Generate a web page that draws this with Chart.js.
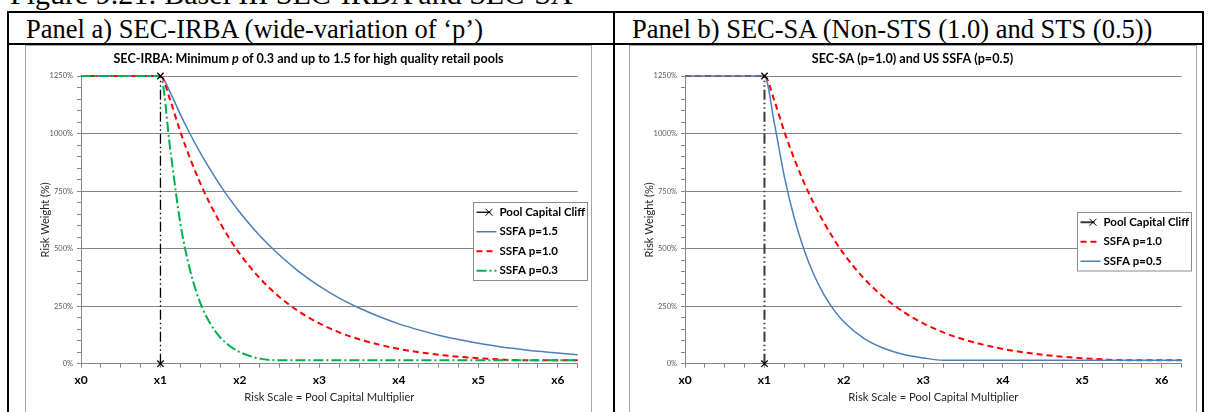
<!DOCTYPE html>
<html>
<head>
<meta charset="utf-8">
<script src="https://cdn.jsdelivr.net/npm/chart.js@4.4.1/dist/chart.umd.min.js"></script>
<style>
  html, body { margin: 0; padding: 0; background: #fff; }
  body { width: 1209px; height: 412px; position: relative; overflow: hidden; }
  .serif { position: absolute; font-family: "Liberation Serif", "Times New Roman", serif; white-space: nowrap; color: #000; }
  #figTitle { left: 10px; top: -21px; font-size: 30px; line-height: 30px; }
  .head { top: 16px; font-size: 26.5px; line-height: 26.5px; }
  .rule { position: absolute; background: #000; }
  .box { position: absolute; border: 1px solid #a6a6a6; box-sizing: border-box; top: 45px; height: 380px; }
  canvas { position: absolute; top: 46px; }
</style>
</head>
<body>
<div id="figTitle" class="serif">Figure 9.21: Basel III SEC-IRBA and SEC-SA</div>
<div class="rule" style="left:7px; top:11px; width:1197px; height:2px"></div>
<div class="rule" style="left:7px; top:43px; width:1197px; height:2px"></div>
<div class="rule" style="left:7px; top:11px; width:2px; height:410px"></div>
<div class="rule" style="left:613px; top:11px; width:2px; height:410px"></div>
<div class="rule" style="left:1202px; top:11px; width:2px; height:410px"></div>
<div class="serif head" style="left:26px">Panel a) SEC-IRBA (wide-variation of ‘p’)</div>
<div class="serif head" style="left:632px">Panel b) SEC-SA (Non-STS (1.0) and STS (0.5))</div>
<div class="box" style="left:25px; width:567px"></div>
<div class="box" style="left:629px; width:568px"></div>
<canvas id="chartA" width="565" height="370" style="left:26px"></canvas>
<canvas id="chartB" width="565" height="370" style="left:630px"></canvas>

<script>
// risk scale (multiples of pool capital) and risk weights in %
const riskScale = [0, 1, 1.125, 1.25, 1.375, 1.5, 1.625, 1.75, 1.875, 2, 2.25, 2.5, 2.75, 3,
  3.25, 3.5, 3.75, 4, 4.25, 4.5, 4.75, 5, 5.25, 5.5, 5.75, 6, 6.25];
const ssfaP15 = [1250, 1250, 1177, 1083, 997, 917, 844, 776, 714, 657, 556, 471, 398, 337,
  285, 242, 205, 173, 147, 124, 105, 89, 75, 64, 54, 46, 39];
const ssfaP10 = [1250, 1250, 1142, 1008, 890, 785, 693, 612, 540, 476, 371, 289, 225, 175,
  136, 106, 83, 64, 50, 39, 30, 24, 19, 15, 15, 15, 15];
const ssfaP03 = [1250, 1250, 926, 610, 403, 265, 175, 115, 76, 50, 22, 15, 15, 15,
  15, 15, 15, 15, 15, 15, 15, 15, 15, 15, 15, 15, 15];
const ssfaP05 = [1250, 1250, 1044, 813, 633, 493, 384, 299, 233, 181, 110, 67, 40, 25,
  15, 15, 15, 15, 15, 15, 15, 15, 15, 15, 15, 15, 15];
const cliffX = [1, 1];
const cliffY = [0, 1250];
const xTickLabels = ['x0', 'x1', 'x2', 'x3', 'x4', 'x5', 'x6'];

Chart.defaults.font.family = 'Lato';

function pts(xs, ys) {
  return xs.map((x, i) => ({ x: x, y: ys[i] }));
}

function curve(label, ys, color, dash, order) {
  return {
    label: label, data: pts(riskScale, ys), borderColor: color, borderWidth: dash.length ? 2 : 1.5,
    borderDash: dash, pointRadius: 0, cubicInterpolationMode: 'monotone', order: order, clip: false
  };
}

function cliff(color, width) {
  return {
    label: 'Pool Capital Cliff', data: pts(cliffX, cliffY), borderColor: color, borderWidth: width,
    borderDash: [10, 3, 1.5, 3, 1.5, 3], pointStyle: 'crossRot', pointRadius: 4.5,
    pointBorderColor: '#000', pointBorderWidth: 1.3, order: 0, clip: false
  };
}

const panelTitle = {
  id: 'panelTitle',
  afterDraw(chart, args, opts) {
    const ctx = chart.ctx;
    ctx.save();
    ctx.textBaseline = 'middle';
    ctx.fillStyle = '#000';
    const fonts = opts.parts.map(p => (p[1] ? 'italic ' : '') + 'bold 12.6px Lato');
    let total = 0;
    opts.parts.forEach((p, i) => { ctx.font = fonts[i]; total += ctx.measureText(p[0]).width; });
    let x = chart.width / 2 - total / 2;
    opts.parts.forEach((p, i) => {
      ctx.font = fonts[i];
      ctx.fillText(p[0], x, opts.y);
      x += ctx.measureText(p[0]).width;
    });
    ctx.restore();
  }
};

const boxLegend = {
  id: 'boxLegend',
  afterDraw(chart, args, opts) {
    const ctx = chart.ctx;
    const ds = chart.data.datasets;
    const rowH = 19.5, left = 447.5, w = 114;
    const h = ds.length * rowH;
    const top = Math.round(opts.centerY - h / 2) + 0.5;
    ctx.save();
    ctx.fillStyle = '#fff';
    ctx.fillRect(left, top, w, h);
    ctx.strokeStyle = '#8c8c8c';
    ctx.lineWidth = 1;
    ctx.strokeRect(left, top, w, h);
    ds.forEach((d, i) => {
      const y = top + rowH / 2 + i * rowH;
      const isCliff = d.pointStyle === 'crossRot';
      ctx.strokeStyle = d.borderColor;
      ctx.lineWidth = d.borderWidth;
      ctx.setLineDash(isCliff ? [] : d.borderDash);
      ctx.beginPath();
      ctx.moveTo(left + 3, y);
      ctx.lineTo(left + (isCliff ? 17 : 23), y);
      ctx.stroke();
      ctx.setLineDash([]);
      if (isCliff) {
        ctx.strokeStyle = '#000';
        ctx.lineWidth = 1;
        ctx.beginPath();
        ctx.moveTo(left + 12, y - 3.5); ctx.lineTo(left + 19, y + 3.5);
        ctx.moveTo(left + 19, y - 3.5); ctx.lineTo(left + 12, y + 3.5);
        ctx.stroke();
      }
      ctx.fillStyle = '#000';
      ctx.font = 'bold 11.5px Lato';
      ctx.textBaseline = 'middle';
      ctx.fillText(d.label, left + 26, y);
    });
    ctx.restore();
  }
};

function makeChart(id, datasets, titleParts) {
  return new Chart(document.getElementById(id), {
    type: 'line',
    data: { datasets: datasets },
    plugins: [panelTitle, boxLegend],
    options: {
      responsive: false,
      animation: false,
      events: [],
      layout: { padding: { left: 0, top: 30, right: 13.3, bottom: 12 } },
      plugins: {
        legend: { display: false },
        tooltip: { enabled: false },
        panelTitle: { parts: titleParts, y: 13 },
        boxLegend: { centerY: 195 }
      },
      scales: {
        x: {
          type: 'linear', min: 0, max: 6.25,
          ticks: {
            stepSize: 0.25, autoSkip: false, maxRotation: 0, padding: 5, color: '#000',
            font: { size: 12, weight: 'bold' },
            callback: v => Number.isInteger(v) ? xTickLabels[v] : ''
          },
          grid: { drawOnChartArea: false, tickColor: '#868686', tickLength: 4 },
          border: { color: '#868686' },
          title: { display: true, text: 'Risk Scale = Pool Capital Multiplier', color: '#262626',
            font: { size: 11.2 }, padding: { top: 0, bottom: 0 } },
          afterFit: s => { s.height = 40.3; }
        },
        y: {
          min: 0, max: 1250,
          ticks: {
            stepSize: 50, autoSkip: false, padding: 4, color: '#595959',
            font: { size: 7.5 },
            callback: v => v % 250 === 0 ? v + '%' : ''
          },
          grid: {
            color: c => c.tick && c.tick.value % 250 === 0 ? '#868686' : 'rgba(0,0,0,0)',
            tickColor: '#868686', tickLength: 4
          },
          border: { color: '#868686' },
          title: { display: true, text: 'Risk Weight (%)', color: '#262626',
            font: { size: 11 }, padding: { top: 12.4, bottom: 0 } },
          afterFit: s => { s.width = 55; }
        }
      }
    }
  });
}

makeChart('chartA', [
  cliff('#000', 1.3),
  curve('SSFA p=1.5', ssfaP15, '#4a7ebb', [], 3),
  curve('SSFA p=1.0', ssfaP10, '#ff0000', [6, 4], 2),
  curve('SSFA p=0.3', ssfaP03, '#00b050', [10, 3, 2, 3], 1)
], [['SEC-IRBA: Minimum ', false], ['p', true], [' of 0.3 and up to 1.5 for high quality retail pools', false]]);

makeChart('chartB', [
  cliff('#3a3a3a', 2),
  curve('SSFA p=1.0', ssfaP10, '#ff0000', [6, 4], 2),
  curve('SSFA p=0.5', ssfaP05, '#4a7ebb', [], 1)
], [['SEC-SA (p=1.0) and US SSFA (p=0.5)', false]]);
</script>
</body>
</html>
